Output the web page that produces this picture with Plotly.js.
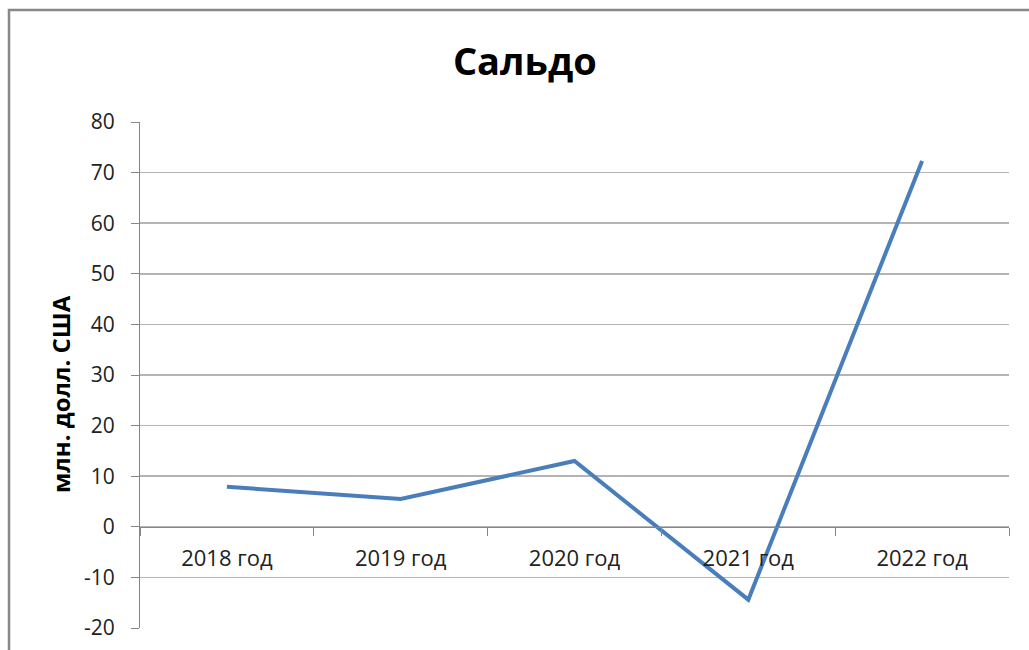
<!DOCTYPE html>
<html>
<head>
<meta charset="utf-8">
<script src="https://cdn.plot.ly/plotly-3.0.1.min.js"></script>
<style>html,body{margin:0;padding:0;background:#fff;}#chart{width:1029px;height:650px;}</style>
</head>
<body>
<div id="chart"></div>
<script>
const categories = ['2018 год', '2019 год', '2020 год', '2021 год', '2022 год'];
const saldo = [7.9, 5.5, 13.0, -14.4, 72.3];
const yTicks = [-20, -10, 0, 10, 20, 30, 40, 50, 60, 70, 80];
const yTitle = 'млн. долл. США';

const fontFam = 'Open Sans, Noto Sans, sans-serif';
const W = 1029, H = 650, L = 140, R = 20, T = 122, B = 22;
const pw = W - L - R, ph = H - T - B;

const trace = {
  x: categories, y: saldo, type: 'scatter', mode: 'lines',
  line: {color: '#4a7ebb', width: 4}, hoverinfo: 'skip'
};

const layout = {
  width: W, height: H,
  margin: {l: L, r: R, t: T, b: B},
  paper_bgcolor: '#ffffff', plot_bgcolor: '#ffffff',
  showlegend: false,
  title: {text: 'Сальдо', x: 0.51, xanchor: 'center', y: 0.905, yanchor: 'middle',
          font: {family: fontFam, size: 38, color: '#000', weight: 'bold'}},
  xaxis: {
    type: 'category', anchor: 'free', position: 0.2, range: [-0.5, 4.5],
    tickson: 'boundaries', ticks: 'outside', ticklen: 8, tickcolor: '#868686', tickwidth: 1,
    showline: true, linecolor: '#868686', linewidth: 1,
    showgrid: false, zeroline: false,
    ticklabelstandoff: 12,
    tickfont: {family: fontFam, size: 22, color: '#222'}
  },
  yaxis: {
    range: [-20, 80], tickvals: yTicks, ticktext: yTicks.map(String),
    showgrid: true, gridcolor: '#b4b4b4', gridwidth: 1.5,
    zeroline: false, showline: true, linecolor: '#868686', linewidth: 1,
    ticks: 'outside', ticklen: 8, tickcolor: '#868686',
    ticklabelstandoff: 12,
    tickfont: {family: fontFam, size: 21, color: '#222'}
  },
  annotations: [{
    text: yTitle, textangle: -90, showarrow: false,
    xref: 'paper', yref: 'paper',
    x: (60 - L) / pw, y: (T + ph - 394) / ph, xanchor: 'center', yanchor: 'middle',
    font: {family: fontFam, size: 24, color: '#000', weight: 'bold'}
  }],
  shapes: [{
    type: 'rect', xref: 'paper', yref: 'paper', layer: 'above',
    x0: (9 - L) / pw, x1: (1045 - L) / pw,
    y0: (T + ph - 665) / ph, y1: 1 + (T - 10) / ph,
    line: {color: '#888888', width: 2.5}, fillcolor: 'rgba(0,0,0,0)'
  }]
};

Plotly.newPlot('chart', [trace], layout, {staticPlot: true, displayModeBar: false});
</script>
</body>
</html>
